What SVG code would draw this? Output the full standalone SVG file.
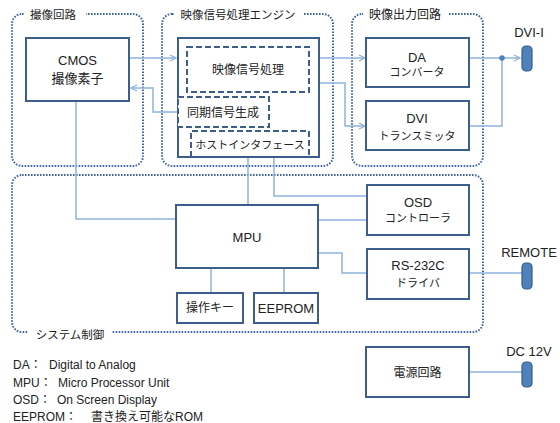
<svg xmlns="http://www.w3.org/2000/svg" width="560" height="423" viewBox="0 0 560 423">
<style>
text{font-family:"Liberation Sans","Noto Sans CJK JP",sans-serif;fill:#222;text-anchor:middle;dominant-baseline:central}
.grp{fill:none;stroke:#3e68a3;stroke-width:2;stroke-dasharray:1.6 1.4}
.box{fill:#fff;stroke:#3b5e8c;stroke-width:2}
.dash{fill:#fff;stroke:#3b5e8c;stroke-width:2;stroke-dasharray:6 3}
.ln{fill:none;stroke:#8fb2de;stroke-width:1.5}
.con{fill:#4f81bd;stroke:#385d8a;stroke-width:1.2}
.t12{font-size:12px}
.t13{font-size:13px}
.t11{font-size:11px}
.ttl{font-size:11.5px}
.lg{font-size:12px;text-anchor:start}
</style>
<defs>
<marker id="ar" markerWidth="8" markerHeight="8" refX="7" refY="4" orient="auto" markerUnits="userSpaceOnUse">
<path d="M1,1 L7,4 L1,7" fill="none" stroke="#8fb2de" stroke-width="1.3"/>
</marker>
</defs>

<g id="group-imaging">
<rect class="grp" x="12" y="14" width="131" height="152" rx="10"/>
<rect x="25" y="6" width="61" height="16" fill="#fff"/>
<text class="ttl" x="53" y="15">撮像回路</text>
</g>
<g id="group-engine">
<rect class="grp" x="162" y="14" width="171" height="152" rx="10"/>
<rect x="175" y="6" width="128" height="16" fill="#fff"/>
<text class="ttl" x="238" y="15">映像信号処理エンジン</text>
</g>
<g id="group-output">
<rect class="grp" x="352" y="14" width="131" height="152" rx="10"/>
<rect x="363" y="6" width="85" height="16" fill="#fff"/>
<text class="t12" x="405" y="15">映像出力回路</text>
</g>
<g id="group-system">
<rect class="grp" x="12" y="175" width="471" height="157" rx="10"/>
<rect x="28" y="325" width="84" height="18" fill="#fff"/>
<text class="ttl" x="70" y="335">システム制御</text>
</g>

<g id="connectors">
<polyline class="ln" points="129,58 176,58" marker-end="url(#ar)"/>
<polyline class="ln" points="178,112 153,112 153,88 131,88" marker-end="url(#ar)"/>
<polyline class="ln" points="319,58 365,58" marker-end="url(#ar)"/>
<polyline class="ln" points="319,83 345,83 345,126 365,126" marker-end="url(#ar)"/>
<polyline class="ln" points="469,58 520,58" marker-end="url(#ar)"/>
<polyline class="ln" points="469,126 502,126 502,58"/>
<circle cx="502" cy="58" r="2.8" fill="#4f81bd"/>
<polyline class="ln" points="76,101 76,219 176,219"/>
<polyline class="ln" points="248,157 248,205"/>
<polyline class="ln" points="274,157 274,196 367,196"/>
<polyline class="ln" points="318,220 367,220"/>
<polyline class="ln" points="318,253 342,253 342,273 367,273"/>
<polyline class="ln" points="469,273 522,273"/>
<polyline class="ln" points="211,268 211,293"/>
<polyline class="ln" points="284,268 284,293"/>
<polyline class="ln" points="469,372 522,372"/>
</g>

<g id="cmos">
<rect class="box" x="26" y="38" width="103" height="63"/>
<text class="t13" x="77.5" y="60">CMOS</text>
<text class="t13" x="77.5" y="78">撮像素子</text>
</g>
<g id="engine">
<rect class="box" x="178" y="38" width="141" height="119"/>
</g>
<g id="video-proc">
<rect class="dash" x="187" y="47" width="122" height="45"/>
<text class="t12" x="248" y="70">映像信号処理</text>
</g>
<g id="sync-gen">
<rect class="dash" x="178" y="97" width="91" height="30"/>
<text class="t12" x="223" y="113">同期信号生成</text>
</g>
<g id="host-if">
<path d="M191,157 V131 H309 V157" fill="none" stroke="#3b5e8c" stroke-width="2" stroke-dasharray="6 3"/>
<text class="t11" x="250" y="145">ホストインタフェース</text>
</g>
<g id="da">
<rect class="box" x="366" y="38" width="103" height="49"/>
<text class="t13" x="417" y="57">DA</text>
<text class="t11" x="417" y="72">コンバータ</text>
</g>
<g id="dvi">
<rect class="box" x="366" y="101" width="103" height="49"/>
<text class="t13" x="417" y="118">DVI</text>
<text class="t11" x="417" y="136">トランスミッタ</text>
</g>
<g id="dvi-i">
<rect class="con" x="522" y="46" width="10" height="25" rx="4"/>
<text class="t13" x="529" y="32">DVI-I</text>
</g>
<g id="mpu">
<rect class="box" x="176" y="205" width="142" height="63"/>
<text class="t13" x="247" y="237">MPU</text>
</g>
<g id="osd">
<rect class="box" x="367" y="185" width="102" height="50"/>
<text class="t13" x="418" y="202">OSD</text>
<text class="t11" x="418" y="218">コントローラ</text>
</g>
<g id="rs232c">
<rect class="box" x="367" y="249" width="102" height="50"/>
<text class="t13" x="418" y="265">RS-232C</text>
<text class="t11" x="418" y="283">ドライバ</text>
</g>
<g id="remote">
<rect class="con" x="522" y="263" width="10" height="26" rx="4"/>
<text class="t13" x="529" y="252">REMOTE</text>
</g>
<g id="keys">
<rect class="box" x="177" y="293" width="66" height="30"/>
<text class="t12" x="210" y="308">操作キー</text>
</g>
<g id="eeprom">
<rect class="box" x="254" y="293" width="64" height="30"/>
<text class="t13" x="286" y="308">EEPROM</text>
</g>
<g id="power">
<rect class="box" x="366" y="347" width="103" height="50"/>
<text class="t12" x="417.5" y="373">電源回路</text>
</g>
<g id="dc12v">
<rect class="con" x="522" y="362" width="10" height="25" rx="4"/>
<text class="t13" x="529" y="351">DC 12V</text>
</g>
<g id="legend">
<text class="lg" x="13" y="365">DA：<tspan x="49">Digital to Analog</tspan></text>
<text class="lg" x="13" y="383">MPU：<tspan x="58">Micro Processor Unit</tspan></text>
<text class="lg" x="13" y="400">OSD：<tspan x="57">On Screen Display</tspan></text>
<text class="lg" x="13" y="417">EEPROM：<tspan x="91">書き換え可能なROM</tspan></text>
</g>
</svg>
